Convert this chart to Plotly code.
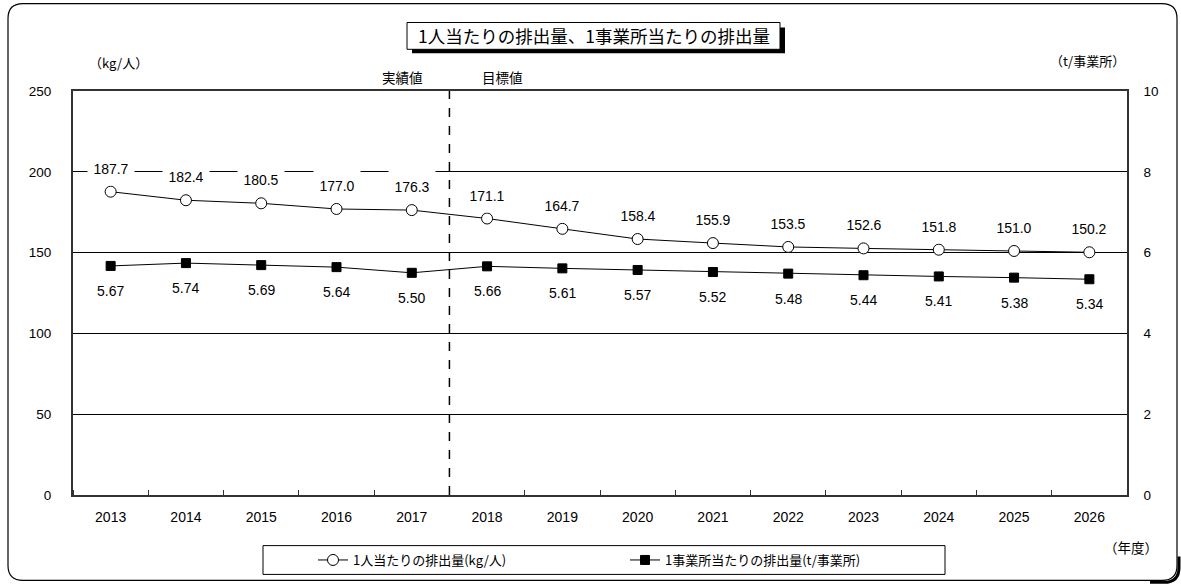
import plotly.graph_objects as go

# ---------------- data ----------------
years = list(range(2013, 2027))
year_labels = [str(y) for y in years]
per_person = [187.7, 182.4, 180.5, 177.0, 176.3, 171.1, 164.7, 158.4, 155.9, 153.5, 152.6, 151.8, 151.0, 150.2]
per_office = [5.67, 5.74, 5.69, 5.64, 5.50, 5.66, 5.61, 5.57, 5.52, 5.48, 5.44, 5.41, 5.38, 5.34]
left_ticks = [0, 50, 100, 150, 200, 250]
right_ticks = [0, 2, 4, 6, 8, 10]
name1 = "1人当たりの排出量(kg/人)"
name2 = "1事業所当たりの排出量(t/事業所)"
title_text = "1人当たりの排出量、1事業所当たりの排出量"
split_year = 2017.5

# ---------------- layout helpers ----------------
W, H = 1181, 587
L, R, T, B = 73, 1127, 91, 498
FONT = "Liberation Sans, Arial, Noto Sans CJK JP, sans-serif"
JFONT = "Noto Sans CJK JP, sans-serif"


def px(x):
    return (x - L) / (R - L)


def py(y):
    return (B - y) / (B - T)


fig = go.Figure()

fig.add_trace(go.Scatter(
    x=years, y=per_person, name=name1, mode="lines+markers",
    line=dict(color="black", width=1),
    marker=dict(symbol="circle", size=11, color="white", line=dict(color="black", width=1)),
    yaxis="y",
))
fig.add_trace(go.Scatter(
    x=years, y=per_office, name=name2, mode="lines+markers",
    line=dict(color="black", width=1),
    marker=dict(symbol="square", size=9, color="black", line=dict(color="black", width=1)),
    yaxis="y2",
))

annotations = []
for x, v in zip(years, per_person):
    annotations.append(dict(
        x=x, y=v, xref="x", yref="y", text=f"{v:.1f}", showarrow=False,
        xanchor="center", yanchor="middle",
        yshift=23, width=44, height=30, bgcolor="white",
        font=dict(size=14, color="black", family=FONT),
    ))
for x, v in zip(years, per_office):
    annotations.append(dict(
        x=x, y=v, xref="x", yref="y2", text=f"{v:.2f}", showarrow=False,
        xanchor="center", yanchor="middle",
        yshift=-25,
        font=dict(size=14, color="black", family=FONT),
    ))


def label(x, y, text, size):
    return dict(x=px(x), y=py(y), xref="paper", yref="paper", text=text,
                xanchor="center", yanchor="middle", showarrow=False,
                font=dict(size=size, color="black", family=JFONT))


# text labels around the chart
annotations += [
    label(593.5, 35.5, title_text, 17.5),
    label(118, 62, "（kg/人）", 13),
    label(1087, 60, "（t/事業所）", 13),
    label(402, 77, "実績値", 13.5),
    label(502, 77, "目標値", 13.5),
    label(1131, 550, "（年度）", 13.5),
]


def rounded_rect(x0, y0, x1, y1, r):
    pts = [
        f"M {px(x0 + r)} {py(y0)}",
        f"L {px(x1 - r)} {py(y0)}",
        f"Q {px(x1)} {py(y0)} {px(x1)} {py(y0 + r)}",
        f"L {px(x1)} {py(y1 - r)}",
        f"Q {px(x1)} {py(y1)} {px(x1 - r)} {py(y1)}",
        f"L {px(x0 + r)} {py(y1)}",
        f"Q {px(x0)} {py(y1)} {px(x0)} {py(y1 - r)}",
        f"L {px(x0)} {py(y0 + r)}",
        f"Q {px(x0)} {py(y0)} {px(x0 + r)} {py(y0)}",
        "Z",
    ]
    return " ".join(pts)


shadow_corner = " ".join([
    f"M {px(1179)} {py(560)}",
    f"L {px(1179)} {py(571)}",
    f"Q {px(1179)} {py(586)} {px(1164)} {py(586)}",
    f"L {px(1150)} {py(586)}",
])

shapes = [
    # outer rounded frame
    dict(type="path", xref="paper", yref="paper", path=rounded_rect(8, 3, 1177, 584, 15),
         line=dict(color="black", width=1.2), fillcolor="rgba(0,0,0,0)", layer="below"),
    dict(type="path", xref="paper", yref="paper", path=shadow_corner,
         line=dict(color="black", width=3), layer="below"),
    # title box with shadow
    dict(type="rect", xref="paper", yref="paper", x0=px(412), x1=px(785), y0=py(53), y1=py(27),
         fillcolor="black", line=dict(width=0), layer="below"),
    dict(type="rect", xref="paper", yref="paper", x0=px(407), x1=px(780), y0=py(49), y1=py(22),
         fillcolor="white", line=dict(color="black", width=1), layer="below"),
    # legend frame
    dict(type="rect", xref="paper", yref="paper", x0=px(263), x1=px(945), y0=py(578), y1=py(549),
         fillcolor="white", line=dict(color="black", width=1), layer="below"),
    # dashed split line
    dict(type="line", xref="x", yref="paper", x0=split_year, x1=split_year, y0=0, y1=1,
         line=dict(color="black", width=1.5, dash="dash")),
]

fig.update_layout(
    width=W, height=H, autosize=False,
    margin=dict(l=L, r=W - R, t=T, b=H - B, pad=0),
    paper_bgcolor="white", plot_bgcolor="white",
    font=dict(family=FONT, size=13.5, color="black"),
    showlegend=True,
    legend=dict(
        orientation="h", x=px(313), xanchor="left", y=py(563.5), yanchor="middle",
        bgcolor="rgba(0,0,0,0)", borderwidth=0,
        font=dict(size=13, family=JFONT, color="black"),
        itemwidth=30, entrywidth=267, entrywidthmode="pixels",
    ),
    xaxis=dict(
        range=[2012.5, 2026.5], tickmode="array", tickvals=years, ticktext=year_labels,
        ticks="", ticklabelstandoff=8, showgrid=False, zeroline=False,
        showline=True, linecolor="#333", linewidth=2, mirror=True,
        minor=dict(tickmode="linear", tick0=2012.5, dtick=1, ticks="inside", ticklen=5,
                   tickcolor="#333", tickwidth=1, showgrid=False),
        automargin=False, fixedrange=True,
        tickfont=dict(size=14, family=FONT, color="black"),
    ),
    yaxis=dict(
        range=[0, 250], tickmode="array", tickvals=left_ticks, ticks="",
        ticklabelstandoff=17, showgrid=True, gridcolor="black", gridwidth=1,
        zeroline=False, showline=True, linecolor="#333", linewidth=2,
        automargin=False, fixedrange=True,
        tickfont=dict(size=13.5, family=FONT, color="black"),
    ),
    yaxis2=dict(
        range=[0, 10], tickmode="array", tickvals=right_ticks, overlaying="y", side="right",
        ticks="", ticklabelstandoff=12, showgrid=False, zeroline=False,
        showline=True, linecolor="#333", linewidth=1.5,
        automargin=False, fixedrange=True,
        tickfont=dict(size=13.5, family=FONT, color="black"),
    ),
    annotations=annotations,
    shapes=shapes,
)

fig.write_html("out.html")
